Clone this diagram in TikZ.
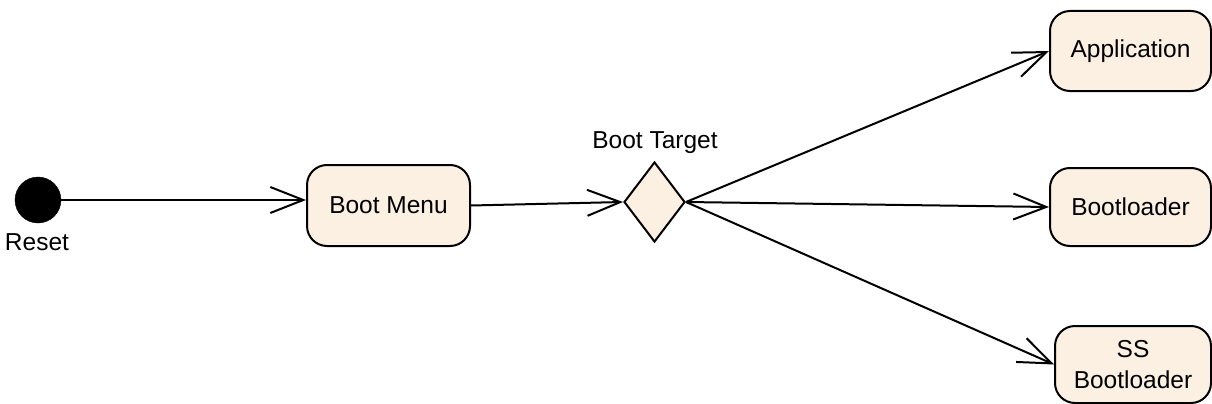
\documentclass[tikz,border=0pt]{standalone}
\usepackage{fontspec}
\setmainfont{Liberation Sans}
\usetikzlibrary{shapes.geometric,arrows.meta}
\definecolor{statefill}{RGB}{251,240,226}
\tikzset{
  state/.style={draw=black, line width=2pt, fill=statefill, rounded corners=20pt, align=center, inner sep=0pt},
  choice/.style={draw=black, line width=2pt, fill=statefill, diamond, inner sep=0pt, minimum width=61pt, minimum height=80pt},
  initial/.style={circle, fill=black, draw=black, minimum size=46pt, inner sep=0pt},
  lbl/.style={inner sep=0pt},
  trans/.style={line width=2pt, -{Straight Barb[length=33pt,width=26pt,line width=2pt]}}
}
\begin{document}
\begin{tikzpicture}[x=1pt,y=-1pt,font=\fontsize{24.5}{31}\selectfont]
\useasboundingbox (0,0) rectangle (1212,404);
\node[initial] (init) at (38,200) {};
\node[lbl] (reset) at (37,242) {Reset};
\node[state, minimum width=163pt, minimum height=81pt] (menu) at (388.5,205.5) {Boot Menu};
\node[choice] (target) at (654.5,202) {};
\node[lbl] (targetlbl) at (655,143) {Boot Target};
\node[state, minimum width=161pt, minimum height=80pt] (app) at (1130.5,51) {Application};
\node[state, minimum width=161pt, minimum height=78pt] (boot) at (1130.5,207) {Bootloader};
\node[state, minimum width=156pt, minimum height=77pt] (ss) at (1133,364.5) {SS\\Bootloader};
\draw[trans] (init.east) -- (init.east -| menu.west);
\draw[trans] (menu.east) -- (target.west);
\draw[trans] (target.east) -- (app.west);
\draw[trans] (target.east) -- (boot.west);
\draw[trans] (target.east) -- (ss.west);
\end{tikzpicture}
\end{document}
